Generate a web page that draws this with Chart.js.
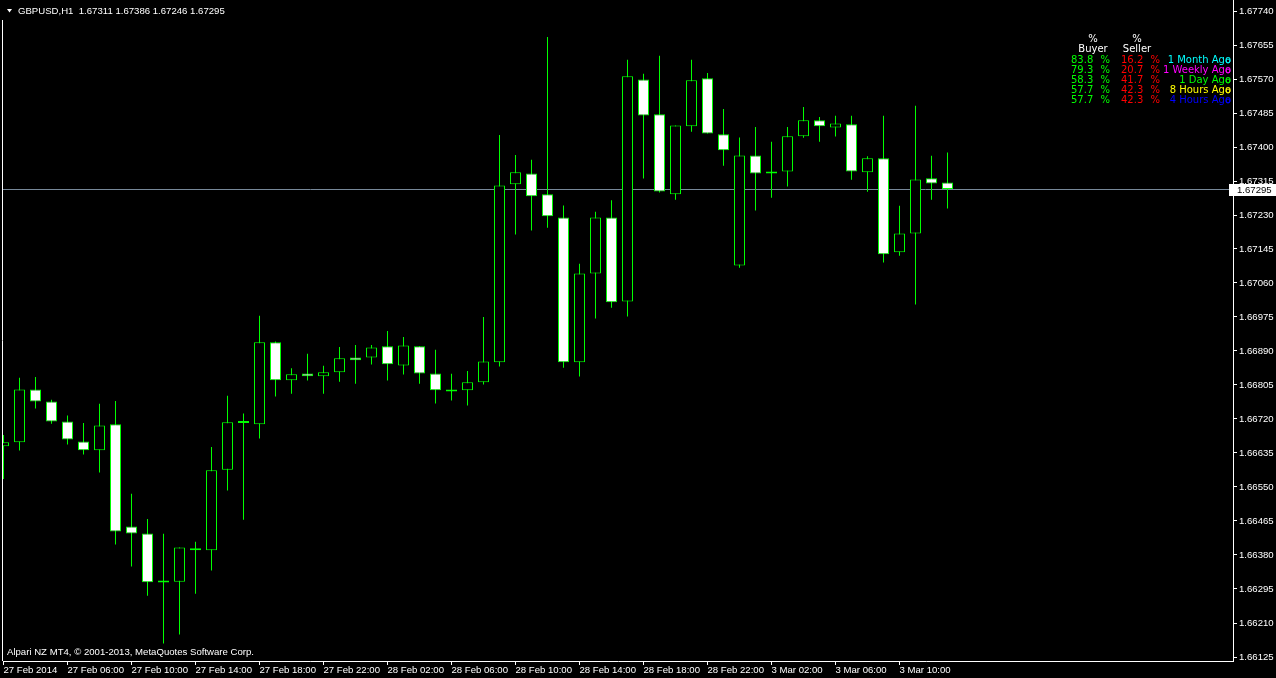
<!DOCTYPE html>
<html lang="en">
<head>
<meta charset="UTF-8">
<title>GBPUSD,H1</title>
<script src="https://cdn.jsdelivr.net/npm/chart.js@4"></script>
<style>
  * { margin: 0; padding: 0; }
  body { background: #000; width: 1276px; height: 678px; overflow: hidden; }
  canvas { display: block; }
</style>
</head>
<body>
<canvas id="chart" width="1276" height="678"></canvas>
<script>
// ---------- Data (H1 bars, 27 Feb 2014 02:00 .. 3 Mar 13:00) ----------

const symbol = 'GBPUSD,H1';

const opens = [
  1.66652, 1.66662, 1.66794, 1.66764, 1.66714, 1.66664, 1.66642, 1.66707, 1.66451, 1.66434,
  1.66312, 1.66313, 1.66397, 1.66392, 1.66593, 1.66711, 1.66707, 1.66912, 1.66817, 1.66834,
  1.66827, 1.66837, 1.66874, 1.66874, 1.66902, 1.66854, 1.66902, 1.66834, 1.66794, 1.66792,
  1.66812, 1.66862, 1.67307, 1.67334, 1.67282, 1.67224, 1.66862, 1.67084, 1.67224, 1.67014,
  1.67569, 1.67482, 1.67282, 1.67452, 1.67572, 1.67432, 1.67104, 1.67379, 1.67339, 1.67339,
  1.67427, 1.67467, 1.67449, 1.67457, 1.67337, 1.67372, 1.67137, 1.67184, 1.67322, 1.67311,
];
const highs = [
  1.66680, 1.66823, 1.66825, 1.66768, 1.66729, 1.66710, 1.66758, 1.66765, 1.66533, 1.66470,
  1.66433, 1.66399, 1.66413, 1.66650, 1.66778, 1.66734, 1.66978, 1.66914, 1.66847, 1.66883,
  1.66853, 1.66900, 1.66905, 1.66905, 1.66940, 1.66925, 1.66902, 1.66893, 1.66833, 1.66840,
  1.66975, 1.67430, 1.67380, 1.67368, 1.67675, 1.67254, 1.67108, 1.67238, 1.67267, 1.67618,
  1.67583, 1.67628, 1.67454, 1.67618, 1.67585, 1.67495, 1.67424, 1.67450, 1.67413, 1.67450,
  1.67500, 1.67475, 1.67478, 1.67478, 1.67377, 1.67478, 1.67253, 1.67503, 1.67378, 1.67386,
];
const lows = [
  1.66570, 1.66641, 1.66746, 1.66708, 1.66656, 1.66631, 1.66586, 1.66406, 1.66351, 1.66278,
  1.66159, 1.66181, 1.66283, 1.66341, 1.66541, 1.66468, 1.66671, 1.66776, 1.66783, 1.66816,
  1.66783, 1.66813, 1.66808, 1.66856, 1.66816, 1.66831, 1.66808, 1.66759, 1.66766, 1.66754,
  1.66806, 1.66851, 1.67181, 1.67191, 1.67198, 1.66848, 1.66826, 1.66971, 1.66998, 1.66976,
  1.67321, 1.67286, 1.67268, 1.67438, 1.67434, 1.67353, 1.67098, 1.67241, 1.67273, 1.67301,
  1.67423, 1.67413, 1.67426, 1.67318, 1.67288, 1.67111, 1.67128, 1.67006, 1.67268, 1.67246,
];
const closes = [
  1.66662, 1.66794, 1.66764, 1.66714, 1.66669, 1.66642, 1.66704, 1.66439, 1.66434, 1.66312,
  1.66311, 1.66399, 1.66392, 1.66592, 1.66712, 1.66710, 1.66912, 1.66817, 1.66832, 1.66827,
  1.66837, 1.66872, 1.66867, 1.66899, 1.66857, 1.66904, 1.66834, 1.66792, 1.66789, 1.66812,
  1.66864, 1.67304, 1.67337, 1.67277, 1.67227, 1.66862, 1.67084, 1.67224, 1.67012, 1.67577,
  1.67479, 1.67289, 1.67454, 1.67567, 1.67434, 1.67392, 1.67379, 1.67334, 1.67334, 1.67427,
  1.67467, 1.67452, 1.67459, 1.67339, 1.67372, 1.67132, 1.67184, 1.67319, 1.67309, 1.67295,
];

const yTicks = [
  1.67740, 1.67655, 1.67570, 1.67485, 1.67400, 1.67315, 1.67230, 1.67145, 1.67060, 1.66975,
  1.66890, 1.66805, 1.66720, 1.66635, 1.66550, 1.66465, 1.66380, 1.66295, 1.66210, 1.66125,
];

const xTickBars = [0, 4, 8, 12, 16, 20, 24, 28, 32, 36, 40, 44, 48, 52, 56];
const xTickLabels = [
  '27 Feb 2014', '27 Feb 06:00', '27 Feb 10:00', '27 Feb 14:00', '27 Feb 18:00',
  '27 Feb 22:00', '28 Feb 02:00', '28 Feb 06:00', '28 Feb 10:00', '28 Feb 14:00',
  '28 Feb 18:00', '28 Feb 22:00', '3 Mar 02:00', '3 Mar 06:00', '3 Mar 10:00',
];

// sentiment panel (top right)
const sentimentPeriods = ['1 Month Ago', '1 Weekly Ago', '1 Day Ago', '8 Hours Ago', '4 Hours Ago'];
const periodColors = ['#00ffff', '#ff00ff', '#00ff00', '#ffff00', '#0000ff'];
const buyerPct  = [83.8, 79.3, 58.3, 57.7, 57.7];
const sellerPct = [16.2, 20.7, 41.7, 42.3, 42.3];

const copyright = 'Alpari NZ MT4, \u00a9 2001-2013, MetaQuotes Software Corp.';

// ---------- Styling ----------

const AXIS_FONT = { family: '"Liberation Sans", Arial, sans-serif', size: 9.6 };
const AXIS_FONT_STR = '9.6px "Liberation Sans", Arial, sans-serif';
const PANEL_FONT_STR = '10px "DejaVu Sans", sans-serif';
const UP = '#000000', DOWN = '#ffffff', EDGE = '#00ff00';

// ---------- Extra MT4 drawing ----------

const mt4 = {
  id: 'mt4',
  beforeDraw(chart) {
    const ctx = chart.ctx;
    ctx.save();
    ctx.fillStyle = '#000';
    ctx.fillRect(0, 0, chart.width, chart.height);
    ctx.restore();
  },
  beforeDatasetsDraw(chart) {
    // bid line
    const { ctx, chartArea } = chart;
    const y = Math.round(chart.scales.y.getPixelForValue(closes[closes.length - 1])) + 0.5;
    ctx.save();
    ctx.strokeStyle = '#778899';
    ctx.lineWidth = 1;
    ctx.beginPath();
    ctx.moveTo(chartArea.left, y);
    ctx.lineTo(chartArea.right, y);
    ctx.stroke();
    ctx.restore();
  },
  afterDraw(chart) {
    const { ctx, chartArea } = chart;
    const last = closes.length - 1;
    ctx.save();

    // left frame
    ctx.strokeStyle = '#ffffff';
    ctx.lineWidth = 1;
    ctx.beginPath();
    ctx.moveTo(2.5, 20);
    ctx.lineTo(2.5, chartArea.bottom);
    ctx.stroke();

    // bid label on price axis
    const yb = Math.round(chart.scales.y.getPixelForValue(closes[last]));
    ctx.fillStyle = '#ffffff';
    ctx.fillRect(chartArea.right - 4, yb - 5, chart.width - chartArea.right + 4, 12);
    ctx.fillStyle = '#000000';
    ctx.font = AXIS_FONT_STR;
    ctx.textBaseline = 'middle';
    ctx.textAlign = 'left';
    ctx.fillText(closes[last].toFixed(5), chartArea.right + 4, yb + 1.5);

    // header
    ctx.fillStyle = '#ffffff';
    ctx.beginPath();
    ctx.moveTo(7, 9);
    ctx.lineTo(12, 9);
    ctx.lineTo(9.5, 12.5);
    ctx.closePath();
    ctx.fill();
    ctx.textBaseline = 'alphabetic';
    const ohlc = [opens[last], highs[last], lows[last], closes[last]].map(v => v.toFixed(5)).join(' ');
    ctx.fillText(`${symbol}  ${ohlc}`, 18, 14);

    // copyright
    ctx.fillText(copyright, 7, 655);

    // sentiment panel
    ctx.font = PANEL_FONT_STR;
    ctx.textAlign = 'center';
    ctx.fillText('%', 1093, 42);
    ctx.fillText('%', 1137, 42);
    ctx.fillText('Buyer', 1093, 52);
    ctx.fillText('Seller', 1137, 52);
    sentimentPeriods.forEach((p, i) => {
      const y = 63 + i * 10;
      ctx.textAlign = 'left';
      ctx.fillStyle = '#00ff00';
      ctx.fillText(buyerPct[i].toFixed(1), 1071, y);
      ctx.fillStyle = '#ff0000';
      ctx.fillText(sellerPct[i].toFixed(1), 1121, y);
      ctx.textAlign = 'right';
      ctx.fillStyle = '#00ff00';
      ctx.fillText('%', 1110, y);
      ctx.fillStyle = '#ff0000';
      ctx.fillText('%', 1160, y);
      ctx.fillStyle = periodColors[i];
      ctx.fillText(p, 1231, y);
      // marker on the axis edge
      ctx.strokeStyle = periodColors[i];
      ctx.beginPath();
      ctx.arc(1228, y - 2, 2, 0, Math.PI * 2);
      ctx.stroke();
    });
    ctx.restore();
  },
};

// ---------- Chart ----------

new Chart(document.getElementById('chart'), {
  type: 'bar',
  data: {
    datasets: [
      {
        label: 'body',
        order: 0,
        data: opens.map((o, i) => ({ x: i, y: [o, closes[i]] })),
        backgroundColor: opens.map((o, i) => closes[i] > o ? UP : DOWN),
        borderColor: EDGE,
        borderWidth: 1,
        borderSkipped: false,
        barThickness: 11,
        minBarLength: 2,
        inflateAmount: 0,
        grouped: false,
      },
      {
        label: 'wick',
        order: 1,
        data: lows.map((l, i) => ({ x: i, y: [l, highs[i]] })),
        backgroundColor: EDGE,
        borderWidth: 0,
        barThickness: 1,
        inflateAmount: 0,
        grouped: false,
      },
    ],
  },
  options: {
    responsive: false,
    animation: false,
    devicePixelRatio: 1,
    layout: { padding: { left: 3, top: 0, right: 0, bottom: 0 } },
    plugins: { legend: { display: false }, tooltip: { enabled: false } },
    scales: {
      x: {
        type: 'linear',
        min: -0.03125,
        max: 76.84375,
        offset: false,
        grid: { offset: false, drawOnChartArea: false, drawTicks: true, tickLength: 4, color: '#ffffff' },
        border: { display: true, color: '#ffffff', width: 1 },
        afterBuildTicks: s => { s.ticks = xTickBars.map(v => ({ value: v })); },
        afterFit: s => { s.height = 17; s.paddingLeft = 0; s.paddingRight = 0; },
        ticks: {
          autoSkip: false, maxRotation: 0, minRotation: 0, align: 'start', padding: 0,
          color: '#ffffff', font: AXIS_FONT,
          callback: v => xTickLabels[xTickBars.indexOf(v)] ?? '',
        },
      },
      y: {
        type: 'linear',
        position: 'right',
        min: 1.66115,
        max: 1.677675,
        grid: { drawOnChartArea: false, drawTicks: true, tickLength: 4, color: '#ffffff' },
        border: { display: true, color: '#ffffff', width: 1 },
        afterBuildTicks: s => { s.ticks = yTicks.map(v => ({ value: v })); },
        afterFit: s => { s.width = 43; s.paddingTop = 0; s.paddingBottom = 0; },
        ticks: {
          autoSkip: false, padding: 2, color: '#ffffff', font: AXIS_FONT,
          callback: v => v.toFixed(5),
        },
      },
    },
  },
  plugins: [mt4],
});
</script>
</body>
</html>
